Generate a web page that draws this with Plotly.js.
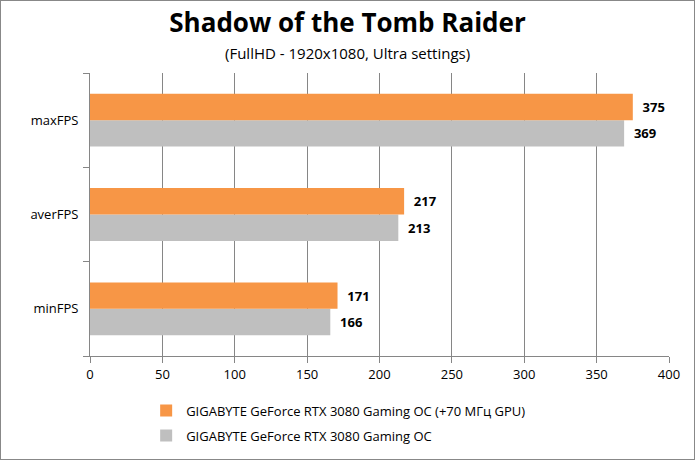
<!DOCTYPE html>
<html>
<head>
<meta charset="utf-8">
<script src="https://cdn.plot.ly/plotly-3.0.1.min.js"></script>
<style>
  body { margin: 0; background: #fff; }
  #chart { width: 693px; height: 458px; border: 1px solid #888; }
</style>
</head>
<body>
<div id="chart"></div>
<script>
var categories = ['minFPS', 'averFPS', 'maxFPS'];
var fpsOc = [171, 217, 375];
var fpsStock = [166, 213, 369];
var nameOc = 'GIGABYTE GeForce RTX 3080 Gaming OC (+70 МГц GPU)';
var nameStock = 'GIGABYTE GeForce RTX 3080 Gaming OC';
var xTicks = [0, 50, 100, 150, 200, 250, 300, 350, 400];

var font = 'Open Sans, sans-serif';

// gray goes first so the orange bar sits on top in each group
var stock = {
  type: 'bar',
  orientation: 'h',
  y: categories,
  x: fpsStock,
  name: nameStock,
  legendgroup: 'stock',
  legendrank: 2,
  marker: {color: '#bfbfbf'},
  texttemplate: '\u00a0\u00a0%{x}',
  textposition: 'outside',
  textfont: {family: font, size: 13, color: '#000', weight: 'bold'},
  cliponaxis: false,
  hoverinfo: 'none'
};
var oc = {
  type: 'bar',
  orientation: 'h',
  y: categories,
  x: fpsOc,
  name: nameOc,
  legendgroup: 'oc',
  legendrank: 1,
  marker: {color: '#f79646'},
  texttemplate: '\u00a0\u00a0%{x}',
  textposition: 'outside',
  textfont: {family: font, size: 13, color: '#000', weight: 'bold'},
  cliponaxis: false,
  hoverinfo: 'none'
};

var layout = {
  width: 693,
  height: 458,
  margin: {l: 89, r: 25, t: 72, b: 103, autoexpand: false},
  paper_bgcolor: '#fff',
  plot_bgcolor: '#fff',
  font: {family: font, size: 13, color: '#000'},
  barmode: 'group',
  bargap: 0.44,
  bargroupgap: 0,
  title: {
    text: '<b>Shadow of the Tomb Raider</b>',
    font: {family: font, size: 26, color: '#000'},
    x: 0.5, xref: 'container',
    y: 1 - 22 / 458, yref: 'container', yanchor: 'middle'
  },
  annotations: [{
    text: '(FullHD - 1920x1080, Ultra settings)',
    xref: 'paper', yref: 'paper',
    x: 0.445, y: 1.07, yanchor: 'middle',
    showarrow: false,
    font: {family: font, size: 15, color: '#000'}
  }],
  xaxis: {
    range: [0, 400],
    tickvals: xTicks,
    showgrid: true,
    gridcolor: '#868686',
    gridwidth: 1,
    zeroline: false,
    showline: true,
    linecolor: '#868686',
    ticks: 'outside',
    ticklen: 6,
    tickcolor: '#868686',
    tickangle: 0,
    tickfont: {size: 13},
    fixedrange: true
  },
  yaxis: {
    type: 'category',
    categoryorder: 'array',
    categoryarray: categories,
    showgrid: false,
    zeroline: false,
    showline: true,
    linecolor: '#868686',
    ticks: 'outside',
    tickson: 'boundaries',
    ticklen: 6,
    tickcolor: '#868686',
    ticklabelstandoff: 8,
    tickfont: {size: 13},
    fixedrange: true
  },
  showlegend: true,
  legend: {
    orientation: 'v',
    traceorder: 'grouped',
    x: 0.097, y: -0.14,
    xanchor: 'left', yanchor: 'top',
    font: {family: font, size: 13},
    tracegroupgap: 5,
    itemwidth: 30
  }
};

Plotly.newPlot('chart', [stock, oc], layout, {displayModeBar: false, staticPlot: true});
</script>
</body>
</html>
